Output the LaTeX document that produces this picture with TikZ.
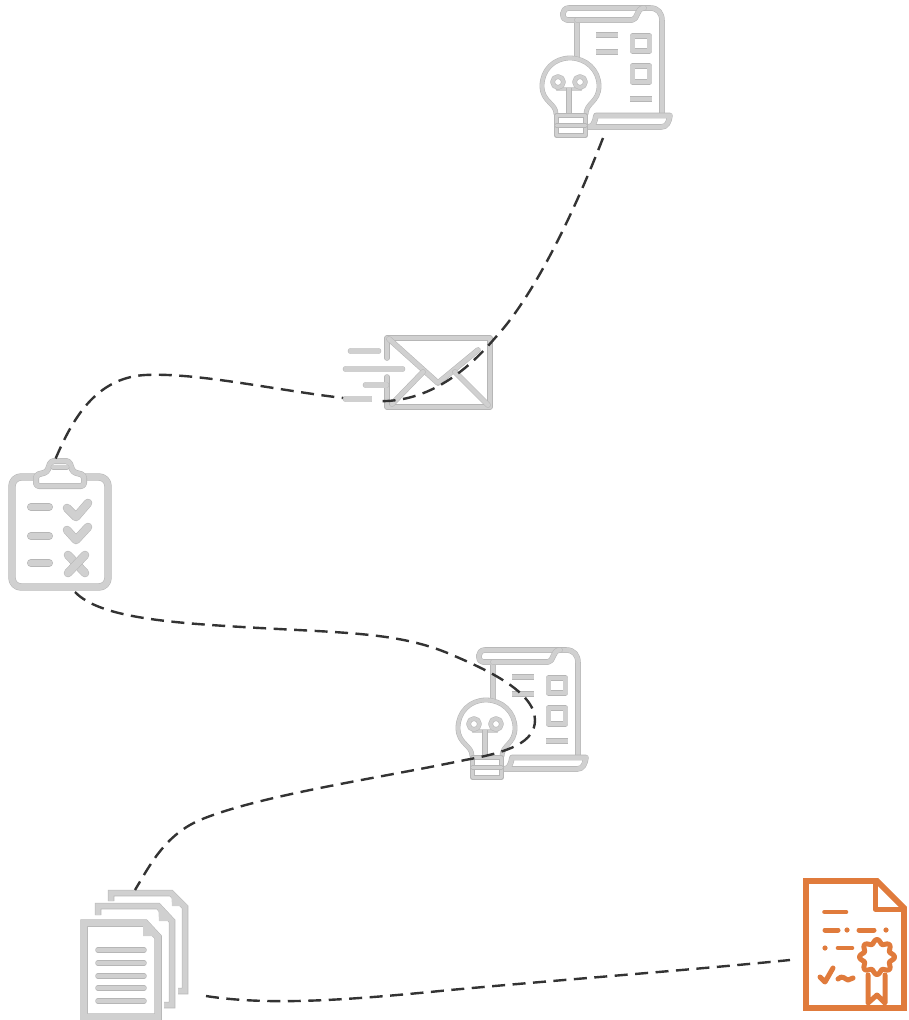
\documentclass[tikz,border=0pt]{standalone}
\definecolor{iconedge}{HTML}{B6B6B6}
\definecolor{iconfill}{HTML}{D0D0D0}
\definecolor{certc}{HTML}{E07B3C}
\definecolor{dashc}{HTML}{333333}
\tikzset{
  gline/.style={draw=iconedge,line width=#1,line cap=round,line join=round,
    postaction={draw=iconfill,line width=#1-1.1pt}},
  gline/.default=5.6pt,
  cline/.style={draw=certc,line width=#1,line cap=round,line join=round},
  cline/.default=4.6pt,
  link/.style={draw=dashc,line width=2.4pt,dash pattern=on 13pt off 7.5pt},
  ideadoc/.pic={
    % scroll
    \draw[gline] (577,57) -- (577,20) -- (567,20) .. controls (561,20) and (561,8) .. (569,8)
      -- (650,8) .. controls (658,8) and (662,13) .. (662,21) -- (662,113);
    \draw[gline] (577,20) -- (632,20) .. controls (638,20) and (636,8) .. (644,8);
    \draw[gline] (588,127) .. controls (593,127) and (595,122) .. (596,115.5) -- (670,115.5)
      .. controls (669,122) and (667,127) .. (661,127) -- (588,127);
    % text bars and boxes
    \draw[gline=6pt,line cap=butt] (596,35) -- (618,35);
    \draw[gline=6pt,line cap=butt] (596,52) -- (618,52);
    \draw[gline=5.6pt] (632.5,36) rectangle (649.5,51);
    \draw[gline=5.6pt] (632.5,66) rectangle (649.5,82);
    \draw[gline=6pt,line cap=butt] (630,99) -- (652,99);
    % bulb
    \draw[gline=4.8pt] (556,114) .. controls (556,103) and (542,102) .. (542,86)
      .. controls (542,70) and (554,58) .. (570,58)
      .. controls (586,58) and (599,70) .. (599,86)
      .. controls (599,102) and (586,103) .. (586,114);
    \draw[gline=4.8pt] (558,89) -- (580,89);
    \draw[gline=4.6pt] (558,82) circle[radius=5.5];
    \draw[gline=4.6pt] (580,82) circle[radius=5.5];
    \draw[gline=5.5pt,line cap=butt] (569,88) -- (569,113);
    \draw[gline=4.8pt] (556.5,115.5) rectangle (585.5,135.5);
    \draw[gline=4.4pt] (556.5,125.5) -- (585.5,125.5);
  }
}
\begin{document}
\begin{tikzpicture}[x=1pt,y=-1pt]
\useasboundingbox (0,0) rectangle (908,1020);

% upper idea document and lower idea document
\pic at (0,0) {ideadoc};
\pic at (-84,642) {ideadoc};

% envelope
\draw[gline] (387,358) -- (387,338) -- (490,338) -- (490,407) -- (387,407) -- (387,377);
\draw[gline] (389,339) -- (438,383) -- (478,350);
\draw[gline] (392,404) -- (423,372);
\draw[gline] (455,372) -- (488,405);
\draw[gline=6.6pt] (351,351) -- (378,351);
\draw[gline=6.6pt] (346,369) -- (402,369);
\draw[gline=6.6pt] (366,385) -- (386,385);

% clipboard
\draw[gline=7.4pt,rounded corners=9pt] (38,477) -- (12,477) -- (12,587) -- (108,587) -- (108,477) -- (82,477);
\draw[gline=6pt,fill=white,rounded corners=3pt] (36,486) -- (36,475) -- (47,472) -- (51,461) -- (69,461) -- (73,472) -- (84,475) -- (84,486) -- cycle;
\draw[gline=5pt] (53,467) -- (67,467);
\draw[gline=8pt] (31,507) -- (49,507);
\draw[gline=8pt] (31,536) -- (49,536);
\draw[gline=8pt] (31,563) -- (49,563);
\draw[gline=8.5pt] (67,508) -- (76,517) -- (88,503);
\draw[gline=8.5pt] (67,530) -- (76,540) -- (88,527);
\draw[gline=8.5pt] (68,555) -- (85,573);
\draw[gline=8.5pt] (85,555) -- (68,573);

% pile of pages
\draw[gline=6.5pt,line cap=butt,line join=miter] (111,901) -- (111,893) -- (171,893) -- (185,907) -- (185,991) -- (178,991);
\fill[iconfill] (171,891) -- (188,906) -- (172,906) -- cycle;
\draw[gline=6.5pt,line cap=butt,line join=miter] (98,915) -- (98,906) -- (158,906) -- (172,921) -- (172,1005) -- (164,1005);
\fill[iconfill] (158,904) -- (175,921) -- (159,921) -- cycle;
\draw[gline=7.5pt,line cap=butt,line join=miter,fill=white] (84,1017) -- (84,923) -- (145,923) -- (158,937) -- (158,1017) -- cycle;
\fill[iconfill] (143,920) -- (161,936) -- (143,936) -- cycle;
\foreach \y in {950,963,976,988,1001}
  \draw[gline=5.5pt] (98,\y) -- (144,\y);

% certificate
\draw[cline=5.8pt,line join=miter] (806,881) -- (877,881) -- (904,908) -- (904,1008) -- (806,1008) -- cycle;
\draw[cline=5pt,line cap=butt] (875,881) -- (875,909) -- (904,909);
\draw[cline] (824.5,912) -- (846,912);
\draw[cline=5pt] (825,930) -- (838,930);
\fill[certc] (847,930) circle[radius=2.6] (886,930) circle[radius=2.6] (825,948) circle[radius=2.6];
\draw[cline=5pt] (859,930) -- (874,930);
\draw[cline=4.6pt] (838,948) -- (852,948);
\draw[cline=5pt] (820,977) -- (825,982) -- (833,968);
\draw[cline=5pt] (838,979) .. controls (842,974) and (846,980) .. (848,980) .. controls (850,980) and (851,978) .. (853,978);
\draw[cline=5pt] plot[domain=0:360,samples=97,smooth] ({877+(15.5+2*cos(8*\x))*cos(\x)},{957+(15.5+2*cos(8*\x))*sin(\x)});
\draw[cline=5pt] (868,975) -- (868,1003) -- (877,995) -- (885,1003) -- (885,975);

% connector end points
\coordinate (ideaA) at (603,138);
\coordinate (clipTop) at (55,460);
\coordinate (clipBottom) at (75,592);
\coordinate (pagesTop) at (135,890);
\coordinate (pagesRight) at (206,996);
\coordinate (cert) at (790,960);

% connectors
\draw[link] (ideaA) .. controls (575,210) and (535,295) .. (495,338)
  .. controls (455,385) and (415,403) .. (375,401)
  .. controls (300,396) and (205,372) .. (145,375)
  .. controls (95,378) and (72,420) .. (clipTop);
\draw[link] (clipBottom) .. controls (100,618) and (170,623) .. (260,628)
  .. controls (350,633) and (400,633) .. (450,654)
  .. controls (480,667) and (535,690) .. (535,720)
  .. controls (535,742) and (510,752) .. (465,760)
  .. controls (380,778) and (260,795) .. (200,820)
  .. controls (165,835) and (150,865) .. (pagesTop);
\draw[link] (pagesRight) .. controls (270,1006) and (350,1000) .. (450,990)
  .. controls (570,979) and (690,970) .. (cert);

% envelope bar that lies over the connector
\draw[gline=6.6pt] (346,399) -- (371,399);
\fill[white] (372,395) rectangle (380,404);
\end{tikzpicture}
\end{document}
